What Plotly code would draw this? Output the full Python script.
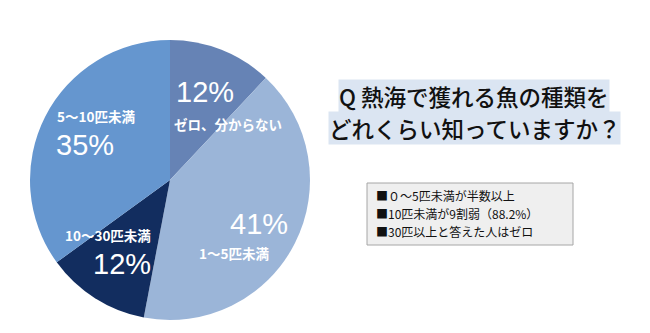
import plotly.graph_objects as go

categories = ["ゼロ、分からない", "1〜5匹未満", "10〜30匹未満", "5〜10匹未満"]
values = [12, 41, 12, 35]
pct_labels = ["12%", "41%", "12%", "35%"]
colors = ["#6683b5", "#9bb5d8", "#122d5f", "#6596cf"]

title_lines = ["Q 熱海で獲れる魚の種類を", "どれくらい知っていますか？"]
notes = ["■０～5匹未満が半数以上", "■10匹未満が9割弱（88.2%）", "■30匹以上と答えた人はゼロ"]

W, H = 650, 333
fig = go.Figure()
fig.add_trace(go.Pie(
    labels=categories, values=values, sort=False, direction="clockwise",
    rotation=0, marker=dict(colors=colors, line=dict(width=0)),
    textinfo="none", hoverinfo="label+percent", showlegend=False,
    domain=dict(x=[30 / W, 310 / W], y=[1 - 320 / H, 1 - 40 / H]),
))

JP = "Noto Sans CJK JP"

def px(x, y):
    return x / W, 1 - y / H

# label positions (pixel) per slice: (name_xy, pct_xy)
pos = [((228, 124), (205, 92)),
       ((234, 253), (259, 224)),
       ((108, 235), (122, 264)),
       ((96, 116), (85, 145))]
for cat, pct, (nxy, pxy) in zip(categories, pct_labels, pos):
    x, y = px(*nxy)
    fig.add_annotation(x=x, y=y, xref="paper", yref="paper", text="<b>" + cat + "</b>",
                       showarrow=False, font=dict(family=JP, size=13.5, color="white"),
                       xanchor="center", yanchor="middle")
    x, y = px(*pxy)
    fig.add_annotation(x=x, y=y, xref="paper", yref="paper", text=pct,
                       showarrow=False, font=dict(family="Liberation Sans", size=29, color="white"),
                       xanchor="center", yanchor="middle")

for line, yy in zip(title_lines, [96, 128]):
    x, y = px(474, yy)
    fig.add_annotation(x=x, y=y, xref="paper", yref="paper", text=line, showarrow=False,
                       font=dict(family=JP, size=22.5, color="#111111", weight=500),
                       bgcolor="#dbe5f2", borderpad=0, xanchor="center", yanchor="middle")

# notes box
x0, y0 = px(367, 183)
x1, y1 = px(573, 245)
fig.add_shape(type="rect", xref="paper", yref="paper", x0=x0, x1=x1, y0=y1, y1=y0,
              fillcolor="#efefef", line=dict(color="#a6a6a6", width=1), layer="below")
for line, yy in zip(notes, [196, 214, 232]):
    x, y = px(374, yy)
    fig.add_annotation(x=x, y=y, xref="paper", yref="paper", text=line,
                       showarrow=False, align="left",
                       font=dict(family=JP, size=12, color="#111111"),
                       xanchor="left", yanchor="middle")

fig.update_layout(width=W, height=H, margin=dict(l=0, r=0, t=0, b=0),
                  paper_bgcolor="white", plot_bgcolor="white")
fig.write_html("out.html")
